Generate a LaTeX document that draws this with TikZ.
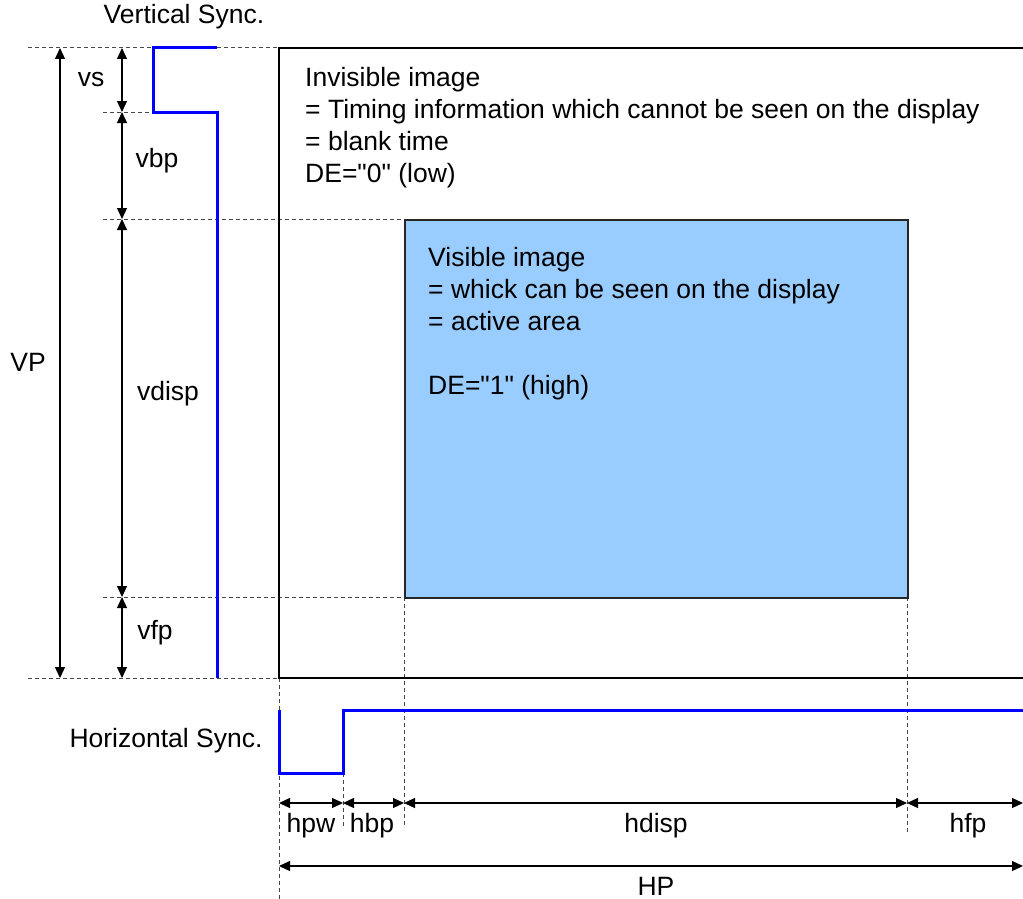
\documentclass[tikz,border=0pt]{standalone}
\usepackage{fontspec}
\setmainfont{Liberation Sans}[Ligatures=TeXOff]
\usetikzlibrary{arrows.meta}
\definecolor{sigblue}{RGB}{0,0,255}
\definecolor{areablue}{RGB}{153,204,255}
\definecolor{dashgray}{RGB}{70,70,70}
\begin{document}
\begin{tikzpicture}[x=1pt,y=-1pt,
  lbl/.style={font=\fontsize{26.5}{32}\selectfont, inner sep=0pt},
  txt/.style={font=\fontsize{26.5}{32}\selectfont, inner sep=0pt, anchor=base west},
  guide/.style={dashed, dash pattern=on 4pt off 3pt, draw=dashgray, line width=1pt},
  frame/.style={draw=black, line width=2pt},
  sig/.style={draw=sigblue, line width=3pt},
  dim/.style={draw=black, line width=1.2pt, {Triangle[length=11pt,width=10pt]}-{Triangle[length=11pt,width=10pt]}},
  area/.style={fill=areablue, draw=black!85, line width=2pt}]
\useasboundingbox (0,0) rectangle (1023,899);
% coordinates
\coordinate (vt) at (279,48);
\coordinate (vb) at (279,678);
\coordinate (fr) at (1023,48);
\coordinate (frb) at (1023,678);
% guide lines (horizontal)
\draw[guide] (28,48) -- (vt);
\draw[guide] (103,112) -- (153,112);
\draw[guide] (103,219) -- (404,219);
\draw[guide] (103,597) -- (404,597);
\draw[guide] (28,678) -- (vb);
% guide lines (vertical)
\draw[guide] (vb) -- (279,899);
\draw[guide] (343,773) -- (343,828);
\draw[guide] (404,597) -- (404,828);
\draw[guide] (907,597) -- (907,833);
% frame
\draw[frame] (fr) -- (vt) -- (vb) -- (frb);
% active area
\node[area, minimum width=503pt, minimum height=378pt, anchor=north west, inner sep=0pt] (act) at (404,219) {};
% vertical sync
\draw[sig] (217,48) -- (153,48) -- (153,112) -- (217,112) -- (217,678);
% horizontal sync
\draw[sig] (279,710) -- (279,773) -- (343,773) -- (343,710) -- (1023,710);
% vertical dimensions
\coordinate (v0) at (122,48);
\coordinate (v1) at (122,112);
\coordinate (v2) at (122,219);
\coordinate (v3) at (122,597);
\coordinate (v4) at (122,678);
\draw[dim] (60,48) -- (60,678);
\draw[dim] (v0) -- (v1);
\draw[dim] (v1) -- (v2);
\draw[dim] (v2) -- (v3);
\draw[dim] (v3) -- (v4);
% horizontal dimensions
\coordinate (h0) at (279,803);
\coordinate (h1) at (343,803);
\coordinate (h2) at (404,803);
\coordinate (h3) at (907,803);
\coordinate (h4) at (1023,803);
\draw[dim] (h0) -- (h1);
\draw[dim] (h1) -- (h2);
\draw[dim] (h2) -- (h3);
\draw[dim] (h3) -- (h4);
\draw[dim] (279,866) -- (1023,866);
% labels
\node[lbl] (lvsync) at (184,17) {Vertical Sync.};
\node[lbl] (lhsync) at (166,741) {Horizontal Sync.};
\node[lbl] (lvs) at (91,80) {vs};
\node[lbl] (lvbp) at (157,161) {vbp};
\node[lbl] (lvdisp) at (168,394) {vdisp};
\node[lbl] (lvfp) at (155,633) {vfp};
\node[lbl] (lvp) at (28,362) {VP};
\node[lbl] (lhpw) at (311,826) {hpw};
\node[lbl] (lhbp) at (372,826) {hbp};
\node[lbl] (lhdisp) at (656,826) {hdisp};
\node[lbl] (lhfp) at (968,826) {hfp};
\node[lbl] (lhp) at (656,886) {HP};
% invisible text
\node[txt] (i1) at (305,86) {Invisible image};
\node[txt] (i2) at (305,118) {= Timing information which cannot be seen on the display};
\node[txt] (i3) at (305,150) {= blank time};
\node[txt] (i4) at (305,182) {DE="0" (low)};
% visible text
\node[txt] (a1) at (428,266) {Visible image};
\node[txt] (a2) at (428,298) {= whick can be seen on the display};
\node[txt] (a3) at (428,330) {= active area};
\node[txt] (a4) at (428,394) {DE="1" (high)};
\end{tikzpicture}
\end{document}
